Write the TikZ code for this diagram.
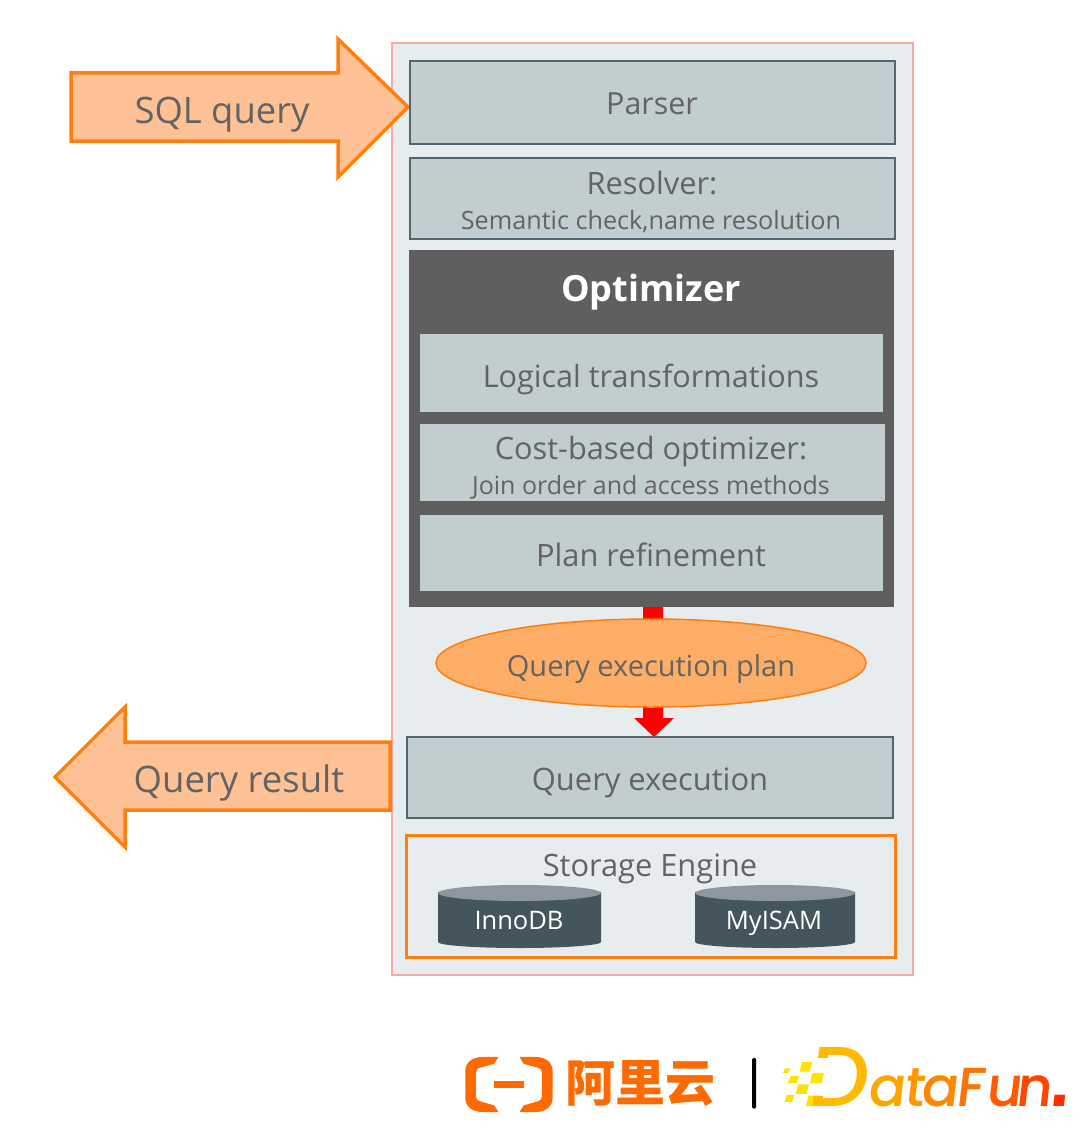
\documentclass[tikz,border=0pt]{standalone}
\usepackage{fontspec}
\setmainfont{Open Sans}
\newfontfamily\cjkfont{Noto Sans CJK SC}
\newfontfamily\dffont[FakeSlant=0.12,UprightFont={* Medium}]{Poppins}
\newfontfamily\dotfont[FakeSlant=0.12]{Liberation Sans}
\usetikzlibrary{arrows.meta}
\definecolor{txt}{HTML}{636363}
\definecolor{boxfill}{HTML}{C1CDCF}
\definecolor{boxline}{HTML}{51666E}
\definecolor{panel}{HTML}{E7ECEF}
\definecolor{panelline}{HTML}{F9A8A3}
\definecolor{orgline}{HTML}{FF7F0E}
\definecolor{orgfill}{HTML}{FDC195}
\definecolor{ellfill}{HTML}{FDAD66}
\definecolor{cyl}{HTML}{45555D}
\definecolor{cyltop}{HTML}{8E979D}
\definecolor{optim}{HTML}{5F5F5F}
\definecolor{ali}{HTML}{FF6A00}
\newcommand{\fs}[1]{\fontsize{#1}{#1}\selectfont}
\tikzset{
 x=1pt,y=-1pt,
 lbl/.style={text=txt,inner sep=0pt,align=center},
 stepbox/.style={draw=boxline,fill=boxfill,line width=2pt},
 inbox/.style={fill=boxfill},
 bigarrow/.style={draw=orgline,fill=orgfill,line width=3.5pt,miter limit=10},
 cylbody/.style={fill=cyl},
 cylcap/.style={fill=cyltop},
 cyllbl/.style={text=white,inner sep=0pt,font=\fs{25.5}},
 logoscale/.style={shift={(440,1030)},x=0.408pt,y=-0.328pt},
}
\newcommand{\aliBracket}{\fill[ali] (143,82) -- (105,82) .. controls (78,82) and (62,100) .. (62,125) -- (62,207) .. controls (62,232) and (78,250) .. (105,250) -- (143,250) -- (133,230) -- (100,218) .. controls (92,215) and (88,210) .. (88,203) -- (88,129) .. controls (88,122) and (92,117) .. (100,114) -- (133,103) -- cycle;}
\begin{document}
\begin{tikzpicture}
\useasboundingbox (0,0) rectangle (1080,1145);
\fill[white] (0,0) rectangle (1080,1145);
% outer panel
\draw[draw=panelline,fill=panel,line width=1.8pt] (392,43) rectangle (913,975);
% arrows
\draw[bigarrow] (71,73) -- (338,73) -- (338,39) -- (408,107) -- (338,177) -- (338,141) -- (71,141) -- cycle;
\node[lbl,font=\fs{36.4}] (sql) at (222,115) {SQL query};
\draw[bigarrow] (390,742) -- (125,742) -- (125,707) -- (55,777) -- (125,847) -- (125,810) -- (390,810) -- cycle;
\node[lbl,font=\fs{36.5}] (result) at (239,783) {Query result};
% boxes
\draw[stepbox] (410,61) rectangle (895,144);
\node[lbl,font=\fs{30.4}] (parser) at (652,104) {Parser};
\draw[stepbox] (410,158) rectangle (895,239);
\node[lbl,font=\fs{30.8}] (resolver) at (652,183) {Resolver:};
\node[lbl,font=\fs{25.2}] (resolver2) at (651,222) {Semantic check,name resolution};
% optimizer
\fill[optim] (409,250) rectangle (894,607);
\node[text=white,inner sep=0pt,font=\fs{36}\bfseries] (optimizer) at (651,292) {Optimizer};
\fill[inbox] (420,334) rectangle (883,412);
\node[lbl,font=\fs{30.6}] (logical) at (651,379) {Logical transformations};
\fill[inbox] (420,424) rectangle (885,501);
\node[lbl,font=\fs{30.7}] (cost) at (651,452) {Cost-based optimizer:};
\node[lbl,font=\fs{25}] (cost2) at (651,487) {Join order and access methods};
\fill[inbox] (420,515) rectangle (883,591);
\node[lbl,font=\fs{30.8}] (plan) at (651,555) {Plan refinement};
% red arrow
\fill[red] (643,607) -- (663,607) -- (663,718) -- (674,718) -- (654,737) -- (634,718) -- (643,718) -- cycle;
% ellipse
\draw[draw=orgline,fill=ellfill,line width=1.5pt] (651,663) ellipse [x radius=215,y radius=44];
\node[lbl,font=\fs{29}] (qep) at (651,669) {Query execution plan};
% query execution
\draw[stepbox] (407,737) rectangle (893,818);
\node[lbl,font=\fs{30.9}] (qe) at (650,783) {Query execution};
% storage
\draw[draw=orgline,line width=3pt] (406,835) rectangle (895,957);
\node[lbl,font=\fs{30.8}] (se) at (650,869) {Storage Engine};
% cylinders
\fill[cylbody] (438,892) -- (438,942) arc [start angle=180,end angle=0,x radius=81.5,y radius=6] -- (601,892) -- cycle;
\fill[cylcap] (519.5,893) ellipse [x radius=81.5,y radius=8];
\node[cyllbl] (inno) at (519,921) {InnoDB};
\fill[cylbody] (695,892) -- (695,942) arc [start angle=180,end angle=0,x radius=80,y radius=6] -- (855,892) -- cycle;
\fill[cylcap] (775,893) ellipse [x radius=80,y radius=8];
\node[cyllbl] (myisam) at (774,923) {MyISAM};
% Alibaba Cloud logo
\begin{scope}[logoscale]
 \aliBracket
 \begin{scope}[shift={(338,0)},xscale=-1]
  \aliBracket
 \end{scope}
 \fill[ali] (132,155) rectangle (205,177);
 \fill[black,rounded corners=1.5pt] (765,85) rectangle (775,240);
\end{scope}
\node[text=ali,inner sep=0pt,font=\cjkfont\bfseries\fs{50}] (aliyun) at (640,1084) {阿里云};
% DataFun logo
\begin{scope}[logoscale]
 \foreach \a/\b/\c/\e in {843/117/856/131, 884/98/909/127, 856/140/877/161, 910/131/938/163, 875/166/901/195, 847/198/866/220, 900/200/929/232}
  \fill[yellow!85!orange] (\a+3,\b) -- (\c+3,\b) -- (\c-3,\e) -- (\a-3,\e) -- cycle;
\end{scope}
\begin{scope}
 \clip (806,1040) -- (880,1040) -- (880,1112) -- (806,1112) -- (806,1096) -- (824,1096) -- (830,1057) -- (806,1057) -- cycle;
 \node[anchor=base west,inner sep=0pt,text={rgb,255:red,255;green,185;blue,0},font=\dffont\fs{85}] (dfd) at (806,1106) {D};
\end{scope}
\tikzset{dfl/.style={anchor=base west,inner sep=0pt,font=\dffont\fs{55}}}
\node[dfl,text={rgb,255:red,255;green,165;blue,0}] (df1) at (867,1106) {a};
\node[dfl,text={rgb,255:red,255;green,150;blue,0}] (df2) at (903,1106) {t};
\node[dfl,text={rgb,255:red,255;green,135;blue,0}] (df3) at (920,1106) {a};
\node[dfl,text={rgb,255:red,255;green,115;blue,0}] (df4) at (955,1106) {F};
\node[dfl,text={rgb,255:red,255;green,90;blue,0}] (df5) at (985,1106) {u};
\node[dfl,text={rgb,255:red,255;green,70;blue,0}] (df6) at (1015,1106) {n};
\node[anchor=base west,inner sep=0pt,text={rgb,255:red,255;green,45;blue,0},font=\dotfont\bfseries\fs{76}] (df7) at (1048,1106) {.};
\end{tikzpicture}
\end{document}
